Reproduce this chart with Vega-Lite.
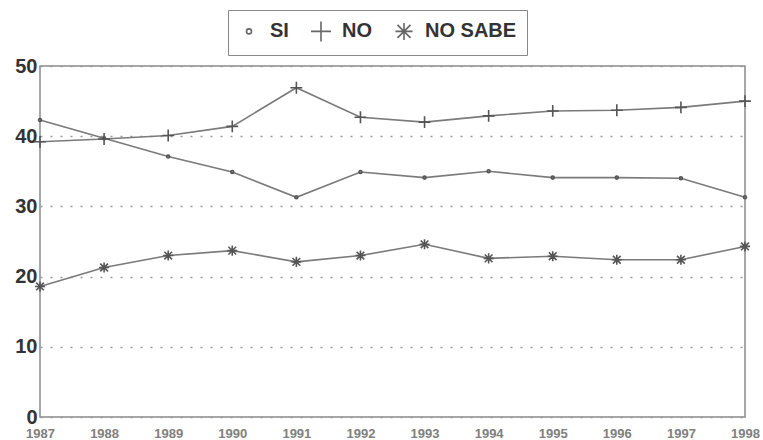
{
  "$schema": "https://vega.github.io/schema/vega-lite/v6.json",
  "width": 705,
  "height": 351,
  "autosize": {"type": "none"},
  "padding": {"left": 40, "top": 66, "right": 18, "bottom": 23},
  "background": "white",
  "config": {
    "view": {"stroke": "#8a8a8a", "strokeWidth": 1.5},
    "font": "Liberation Sans"
  },
  "data": {"values": [
    {"year": 1987, "serie": "SI", "value": 42.3},
    {"year": 1988, "serie": "SI", "value": 39.7},
    {"year": 1989, "serie": "SI", "value": 37.1},
    {"year": 1990, "serie": "SI", "value": 34.9},
    {"year": 1991, "serie": "SI", "value": 31.3},
    {"year": 1992, "serie": "SI", "value": 34.9},
    {"year": 1993, "serie": "SI", "value": 34.1},
    {"year": 1994, "serie": "SI", "value": 35.0},
    {"year": 1995, "serie": "SI", "value": 34.1},
    {"year": 1996, "serie": "SI", "value": 34.1},
    {"year": 1997, "serie": "SI", "value": 34.0},
    {"year": 1998, "serie": "SI", "value": 31.3},
    {"year": 1987, "serie": "NO", "value": 39.2},
    {"year": 1988, "serie": "NO", "value": 39.6},
    {"year": 1989, "serie": "NO", "value": 40.1},
    {"year": 1990, "serie": "NO", "value": 41.4},
    {"year": 1991, "serie": "NO", "value": 46.9},
    {"year": 1992, "serie": "NO", "value": 42.7},
    {"year": 1993, "serie": "NO", "value": 42.0},
    {"year": 1994, "serie": "NO", "value": 42.9},
    {"year": 1995, "serie": "NO", "value": 43.6},
    {"year": 1996, "serie": "NO", "value": 43.7},
    {"year": 1997, "serie": "NO", "value": 44.1},
    {"year": 1998, "serie": "NO", "value": 45.0},
    {"year": 1987, "serie": "NO SABE", "value": 18.6},
    {"year": 1988, "serie": "NO SABE", "value": 21.3},
    {"year": 1989, "serie": "NO SABE", "value": 23.0},
    {"year": 1990, "serie": "NO SABE", "value": 23.7},
    {"year": 1991, "serie": "NO SABE", "value": 22.1},
    {"year": 1992, "serie": "NO SABE", "value": 23.0},
    {"year": 1993, "serie": "NO SABE", "value": 24.6},
    {"year": 1994, "serie": "NO SABE", "value": 22.6},
    {"year": 1995, "serie": "NO SABE", "value": 22.9},
    {"year": 1996, "serie": "NO SABE", "value": 22.4},
    {"year": 1997, "serie": "NO SABE", "value": 22.4},
    {"year": 1998, "serie": "NO SABE", "value": 24.3}
  ]},
  "encoding": {
    "x": {
      "field": "year", "type": "quantitative",
      "scale": {"domain": [1987, 1998], "nice": false, "zero": false},
      "axis": {
        "title": null, "values": [1987,1988,1989,1990,1991,1992,1993,1994,1995,1996,1997,1998],
        "format": "d", "grid": false, "ticks": false, "domain": false,
        "labelFontSize": 13, "labelColor": "#808080", "labelFontWeight": "bold",
        "labelPadding": 10, "labelFlush": false
      }
    },
    "y": {
      "field": "value", "type": "quantitative",
      "scale": {"domain": [0, 50], "nice": false},
      "axis": {
        "title": null, "values": [0,10,20,30,40,50], "ticks": false, "domain": false,
        "grid": true, "gridDash": [2, 8], "gridColor": "#9a9a9a", "gridWidth": 1.5,
        "labelFontSize": 20, "labelColor": "#333333", "labelFontWeight": "bold",
        "labelPadding": 3
      }
    }
  },
  "layer": [
    {
      "mark": {"type": "line", "color": "#7a7a7a", "strokeWidth": 1.6},
      "encoding": {"detail": {"field": "serie"}}
    },
    {
      "mark": {"type": "point", "filled": false, "strokeWidth": 1.6, "opacity": 1, "size": 140},
      "encoding": {
        "shape": {
          "field": "serie", "type": "nominal",
          "sort": ["SI", "NO", "NO SABE"],
          "scale": {
            "domain": ["SI", "NO", "NO SABE"],
            "range": [
              "M-1,-1L-1,-1M1,1L1,1M-0.25,0a0.25,0.25 0 1,0 0.5,0a0.25,0.25 0 1,0 -0.5,0",
              "M-1,0L1,0M0,-1L0,1",
              "M-1,-1L-1,-1M1,1L1,1M-0.85,0L0.85,0M0,-0.85L0,0.85M-0.65,-0.65L0.65,0.65M-0.65,0.65L0.65,-0.65"
            ]
          },
          "legend": {
            "title": null, "orient": "none", "direction": "horizontal",
            "legendX": 188, "legendY": -56,
            "strokeColor": "#888888", "padding": 10,
            "labelFontSize": 20, "labelFontWeight": "bold", "labelColor": "#333333",
            "symbolStrokeColor": "#666666", "symbolStrokeWidth": 1.6, "symbolFillColor": "transparent",
            "symbolSize": 400, "columnPadding": 18, "labelOffset": 10
          }
        },
        "color": {"value": "#555555"}
      }
    }
  ]
}
